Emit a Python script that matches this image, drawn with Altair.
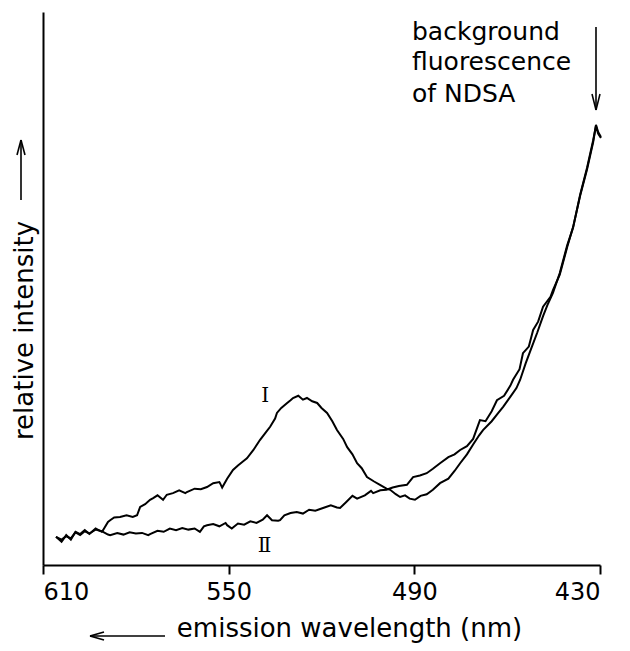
import altair as alt
import pandas as pd

# ---- data (wavelength in nm, relative intensity 0-100) ----
curve_i_nm = [605.8, 604.0, 602.5, 601.0, 599.5, 598.0, 596.5, 595.0, 593.0, 591.0, 590.6,
              589.0, 588.3, 587.0, 585.1, 583.0, 581.0, 579.6, 578.6, 577.0, 575.4, 574.4,
              573.0, 571.2, 570.0, 568.0, 566.0, 564.0, 563.5, 561.0, 559.0, 557.0, 555.0,
              553.0, 552.8, 552.1, 550.5, 548.6, 547.0, 545.0, 544.1, 542.0, 539.9, 538.0,
              536.6, 535.0, 534.4, 533.0, 531.1, 530.0, 529.2, 527.5, 526.0, 524.7, 523.0,
              521.4, 520.0, 518.2, 516.5, 515.0, 513.0, 511.7, 510.0, 508.5, 507.0, 505.3,
              503.0, 501.1, 499.0, 497.8, 496.0, 494.6, 493.0, 491.5, 489.8, 488.0, 486.0,
              484.0, 481.7, 479.0, 477.0, 475.2, 473.0, 471.0, 469.0, 467.8, 465.0, 463.0,
              461.3, 459.0, 457.0, 455.8, 454.0, 452.0, 450.3, 448.4, 447.0, 445.2, 443.0,
              440.6, 438.7, 436.4, 434.2, 432.2, 431.3, 430.6, 429.7]
curve_i_val = [5.1, 4.2, 5.4, 4.6, 6.0, 5.6, 6.3, 5.6, 6.6, 6.0, 6.3,
               7.8, 8.1, 8.6, 8.7, 9.0, 8.7, 9.0, 10.5, 11.0, 11.8, 12.1,
               12.6, 11.8, 12.7, 13.0, 13.5, 13.0, 13.2, 13.8, 13.7, 14.1, 14.8,
               15.0, 14.8, 14.0, 15.6, 17.2, 18.0, 18.9, 19.3, 20.8, 22.6, 24.0,
               25.0, 26.5, 27.5, 28.4, 29.3, 29.8, 30.2, 30.6, 29.9, 30.2, 29.6,
               29.3, 28.4, 27.5, 26.0, 24.4, 22.8, 21.3, 20.0, 18.4, 17.5, 15.9,
               15.1, 14.5, 13.8, 13.6, 12.8, 12.3, 12.6, 12.0, 11.8, 12.5, 12.8,
               13.6, 14.8, 15.6, 17.0, 18.4, 20.0, 21.8, 23.5, 24.4, 26.0, 27.4,
               28.6, 30.4, 32.0, 33.5, 36.5, 39.5, 42.0, 45.0, 47.0, 49.2, 52.8,
               57.8, 61.0, 67.0, 71.8, 76.8, 79.4, 78.0, 77.2]

curve_ii_nm = [605.8, 604.0, 602.5, 601.0, 599.5, 598.0, 596.5, 595.0, 593.0, 591.0, 590.6,
               589.0, 588.3, 586.0, 584.0, 582.0, 580.0, 578.0, 576.0, 575.4, 573.0, 571.0,
               569.0, 567.0, 565.0, 563.0, 561.0, 559.3, 558.0, 557.0, 555.0, 553.0, 551.0,
               550.5, 549.0, 547.0, 545.0, 543.0, 541.0, 539.0, 537.6, 536.0, 534.0, 533.4,
               532.0, 530.0, 528.0, 526.0, 524.0, 522.0, 519.5, 517.0, 515.0, 514.0, 512.0,
               510.0, 508.5, 506.0, 504.0, 503.3, 501.0, 499.0, 497.0, 495.0, 492.4, 490.4,
               488.2, 486.0, 484.0, 481.7, 479.0, 477.0, 475.2, 473.0, 471.0, 468.8, 467.0,
               465.0, 463.3, 461.0, 459.0, 458.1, 456.0, 454.9, 453.0, 451.6, 450.0, 448.4,
               446.0, 445.2, 443.0, 440.6, 438.7, 436.4, 434.2, 432.2, 431.3, 430.6, 429.7]
curve_ii_val = [5.1, 4.6, 5.2, 4.8, 5.9, 5.4, 6.1, 5.7, 6.4, 6.1, 6.0,
                5.5, 5.4, 5.8, 5.5, 5.9, 5.7, 5.8, 5.4, 5.6, 6.2, 6.0,
                6.6, 6.3, 6.7, 6.4, 6.6, 6.0, 7.0, 7.2, 7.4, 7.0, 7.6,
                7.2, 6.6, 7.5, 7.3, 7.9, 7.6, 8.2, 9.0, 8.1, 8.0, 8.1,
                9.0, 9.4, 9.6, 9.3, 10.0, 9.8, 10.3, 10.8, 10.4, 10.3, 11.4,
                12.5, 12.0, 12.6, 13.4, 13.0, 13.5, 13.6, 14.0, 14.3, 14.5, 15.9,
                16.2, 16.6, 17.4, 18.4, 19.5, 20.0, 20.8, 21.5, 22.8, 26.2, 26.0,
                27.8, 29.8, 30.6, 32.4, 33.5, 35.4, 38.3, 39.5, 42.5, 44.0, 46.7,
                48.5, 49.7, 52.5, 57.5, 61.1, 66.8, 71.5, 76.5, 79.6, 78.3, 77.4]

x_ticks = [610, 550, 490, 430]

label_text = ["Ⅰ", "Ⅱ"]
label_nm = [538.2, 538.4]
label_val = [30.5, 3.4]

note_lines = ["background", "fluorescence", "of NDSA"]

FONT = "DejaVu Sans"

df = pd.concat([
    pd.DataFrame({"nm": curve_i_nm, "intensity": curve_i_val, "curve": "I"}),
    pd.DataFrame({"nm": curve_ii_nm, "intensity": curve_ii_val, "curve": "II"}),
])
labels = pd.DataFrame({"nm": label_nm, "intensity": label_val, "text": label_text})
one = pd.DataFrame({"a": [0]})

xscale = alt.Scale(domain=[430, 610], reverse=True, nice=False, zero=False)
yscale = alt.Scale(domain=[0, 100], nice=False, zero=False)

lines = alt.Chart(df).mark_line(color="black", strokeWidth=2, interpolate="linear").encode(
    x=alt.X("nm:Q", scale=xscale,
            axis=alt.Axis(values=x_ticks, title="emission wavelength (nm)", format="d",
                          tickSize=9, tickWidth=2, labelPadding=6,
                          titleX=306, titleY=71, titleAlign="center",
                          titleBaseline="alphabetic")),
    y=alt.Y("intensity:Q", scale=yscale,
            axis=alt.Axis(ticks=False, labels=False, title="relative intensity",
                          titleX=-19, titleY=318, titleAngle=270, titleAlign="center",
                          titleBaseline="middle")),
    detail="curve:N",
)

roman = alt.Chart(labels).mark_text(font="DejaVu Serif", fontSize=20, color="black").encode(
    x=alt.X("nm:Q", scale=xscale),
    y=alt.Y("intensity:Q", scale=yscale),
    text="text:N",
)

def seg(x1, y1, x2, y2):
    return alt.Chart(one).mark_rule(color="black", strokeWidth=1.6).encode(
        x=alt.value(x1), y=alt.value(y1), x2=alt.value(x2), y2=alt.value(y2))

# annotation arrows (pixel positions relative to plot origin)
arrows = [
    # top arrow pointing down at the 430 nm end
    seg(553, 15, 553, 98), seg(549, 82, 553, 98), seg(557, 82, 553, 98),
    # y-title arrow pointing up
    seg(-22, 188, -22, 128), seg(-26, 143, -22, 128), seg(-18, 143, -22, 128),
    # x-title arrow pointing left
    seg(122, 624, 47, 624), seg(61, 620, 47, 624), seg(61, 628, 47, 624),
]

notes = [
    alt.Chart(one).mark_text(text=t, align="left", baseline="alphabetic", font=FONT,
                             fontSize=25, color="black").encode(
        x=alt.value(369), y=alt.value(yy))
    for t, yy in zip(note_lines, [27.5, 58, 89.5])
]

chart = alt.layer(lines, roman, *arrows, *notes).properties(
    width=557, height=553,
    padding={"left": 35, "top": 4, "right": 22, "bottom": 78},
    autosize=alt.AutoSizeParams(type="none"),
    background="white",
).configure_view(stroke=None).configure_axis(
    grid=False, domainColor="black", domainWidth=2, tickColor="black",
    labelFont=FONT, labelFontSize=24, labelColor="black",
    titleFont=FONT, titleFontSize=26, titleFontWeight="normal", titleColor="black",
)

chart.save("out.html", embed_options={"renderer": "svg", "actions": False})
